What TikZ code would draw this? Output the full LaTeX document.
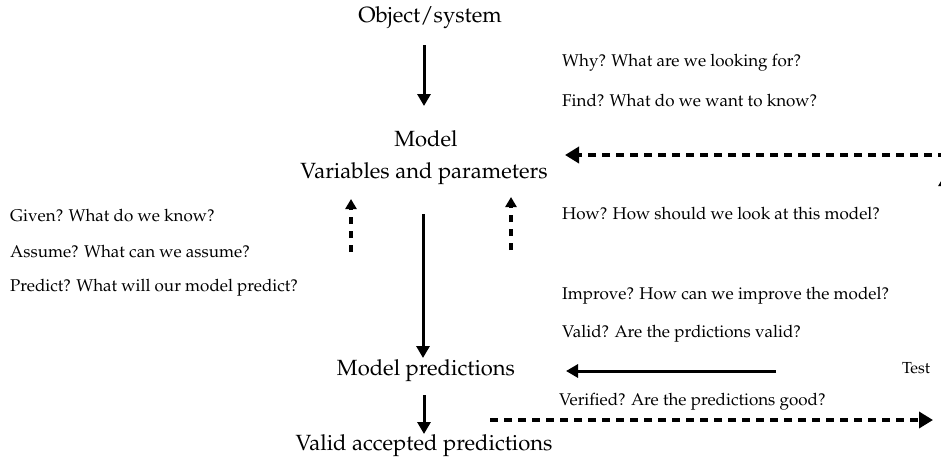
\documentclass[tikz,border=0pt]{standalone}
\usepackage[T1]{fontenc}
\usepackage{mathpazo}
\usetikzlibrary{arrows.meta}
\tikzset{
  big/.style={font=\fontsize{22}{26}\selectfont, inner sep=0pt},
  small/.style={font=\fontsize{17}{20}\selectfont, inner sep=0pt, anchor=west},
  flow/.style={line width=3pt, -{Triangle[length=12pt,width=13pt]}},
  back/.style={line width=4pt, dash pattern=on 8pt off 6pt, -{Triangle[length=14pt,width=16pt]}},
  upd/.style={line width=3.5pt, dash pattern=on 7pt off 7pt, -{Triangle[length=10pt,width=11pt]}}
}
\begin{document}
\begin{tikzpicture}[x=1pt,y=-1pt]
\useasboundingbox (0,0) rectangle (941,459);
\clip (0,0) rectangle (941,459);

% main column
\node[big] (obj) at (430,18) {Object/system};
\node[big] (model) at (426,139) {Model};
\node[big] (vars) at (424,174) {Variables and parameters};
\node[big] (pred) at (426,371) {Model predictions};
\node[big] (valid) at (424,446) {Valid accepted predictions};

% questions
\node[small] (why) at (562,63) {Why? What are we looking for?};
\node[small] (find) at (562,101) {Find? What do we want to know?};
\node[small] (given) at (10,216) {Given? What do we know?};
\node[small] (assume) at (10,252) {Assume? What can we assume?};
\node[small] (predict) at (10,288) {Predict? What will our model predict?};
\node[small] (how) at (562,214) {How? How should we look at this model?};
\node[small] (improve) at (562,296) {Improve? How can we improve the model?};
\node[small] (validq) at (562,334) {Valid? Are the prdictions valid?};
\node[small] (verified) at (559,402) {Verified? Are the predictions good?};
\node[font=\fontsize{16}{19}\selectfont, inner sep=0pt] (test) at (916,368) {Test};

% connector ends
\coordinate (a1s) at (424,45);  \coordinate (a1e) at (424,106);
\coordinate (a2s) at (423,214); \coordinate (a2e) at (423,358);
\coordinate (a3s) at (424,395); \coordinate (a3e) at (424,434);
\coordinate (l1s) at (351,252); \coordinate (l1e) at (351,199);
\coordinate (r1s) at (511,250); \coordinate (r1e) at (511,197);
\coordinate (fbs) at (960,155); \coordinate (fbe) at (565,155);
\coordinate (tss) at (776,371); \coordinate (tse) at (566,371);
\coordinate (vfs) at (490,420); \coordinate (vfe) at (933,420);
\coordinate (ups) at (944,260); \coordinate (upe) at (944,176);

% arrows
\draw[flow] (a1s) -- (a1e);
\draw[flow] (a2s) -- (a2e);
\draw[flow] (a3s) -- (a3e);
\draw[flow] (tss) -- (tse);
\draw[upd] (l1s) -- (l1e);
\draw[upd] (r1s) -- (r1e);
\draw[back] (fbs) -- (fbe);
\draw[back] (vfs) -- (vfe);
\draw[upd] (ups) -- (upe);
\end{tikzpicture}
\end{document}
